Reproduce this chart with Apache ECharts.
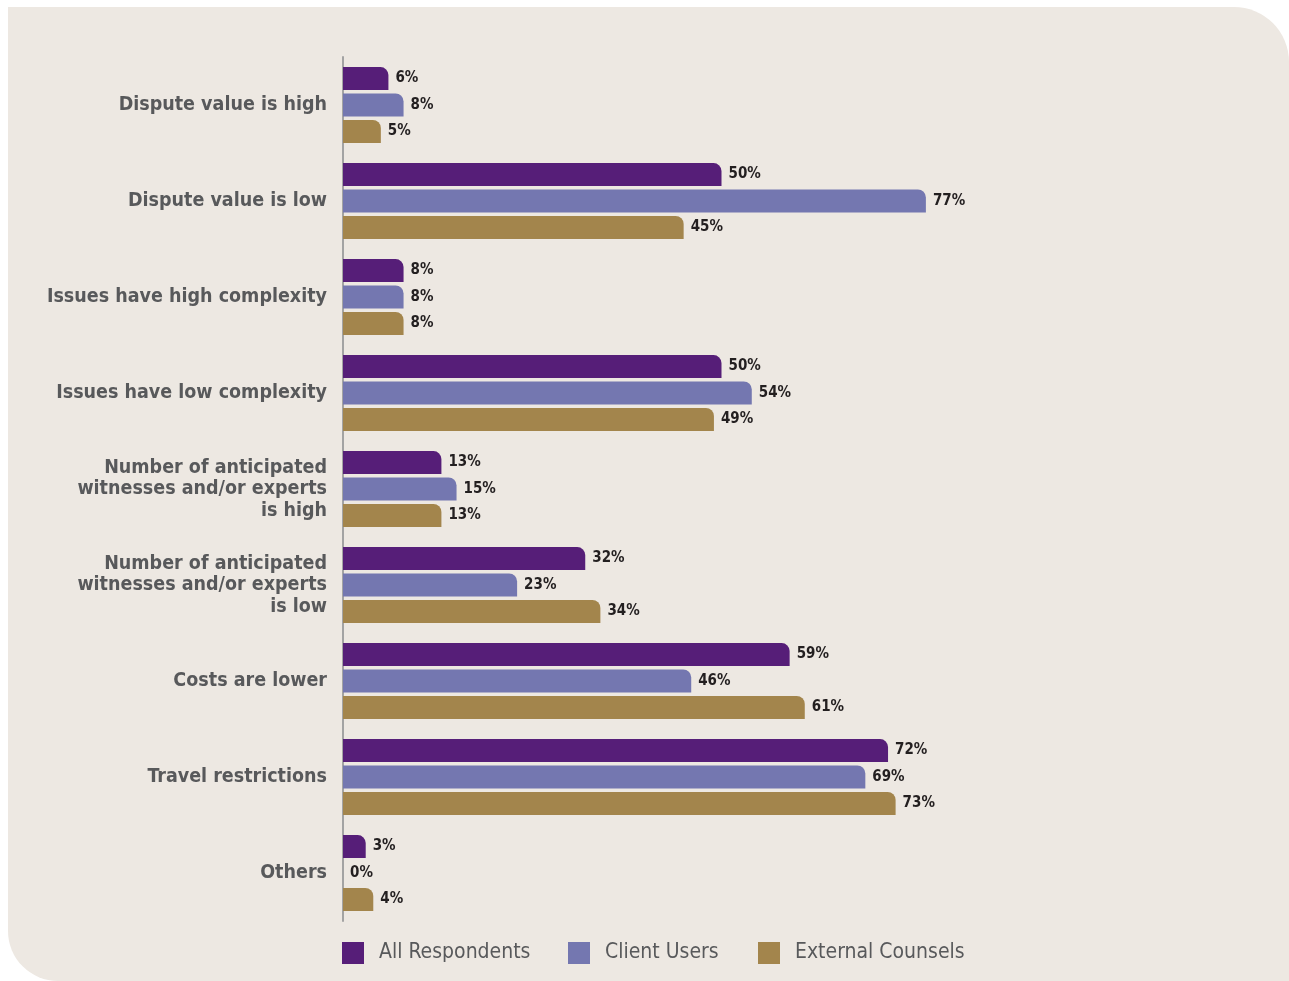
<!DOCTYPE html>
<html><head><meta charset="utf-8">
<script src="https://cdn.jsdelivr.net/npm/echarts@6/dist/echarts.min.js"></script>
<style>html,body{margin:0;padding:0;background:#fff;}#c{width:1289px;height:981px;}</style>
</head><body><div id="c"></div>
<script>
const categories = [
  "Dispute value is high",
  "Dispute value is low",
  "Issues have high complexity",
  "Issues have low complexity",
  "Number of anticipated\nwitnesses and/or experts\nis high",
  "Number of anticipated\nwitnesses and/or experts\nis low",
  "Costs are lower",
  "Travel restrictions",
  "Others"
];
const seriesNames = ["All Respondents", "Client Users", "External Counsels"];
const allRespondents = [6, 50, 8, 50, 13, 32, 59, 72, 3];
const clientUsers = [8, 77, 8, 54, 15, 23, 46, 69, 0];
const externalCounsels = [5, 45, 8, 49, 13, 34, 61, 73, 4];
const colors = ["#561e78", "#7477b0", "#a3854c"];

const FONT = "'DejaVu Sans Condensed', 'Liberation Sans Narrow', 'Liberation Sans', sans-serif";
const chart = echarts.init(document.getElementById('c'));
const data = [allRespondents, clientUsers, externalCounsels];
const legendX = [342, 568, 758];
chart.setOption({
  animation: false,
  graphic: [{
    type: 'rect', z: -10, silent: true,
    shape: {x: 8, y: 7, width: 1281, height: 974, r: [0, 55, 0, 50]},
    style: {fill: '#ede8e2'}
  }],
  legend: seriesNames.map((n, i) => ({
    data: [n], left: legendX[i], top: 942, padding: 0,
    itemWidth: 22, itemHeight: 22, icon: 'rect',
    textStyle: {fontFamily: FONT, fontSize: 21, color: '#58595b', padding: [0, 0, 0, 10]}
  })),
  grid: {left: 343, top: 57, width: 757, height: 864, containLabel: false, outerBoundsMode: 'none'},
  xAxis: {type: 'value', min: 0, max: 100, show: false},
  yAxis: {
    type: 'category', data: categories, inverse: true,
    axisLine: {show: true, lineStyle: {color: '#a3a3a3', width: 2}},
    axisTick: {show: false},
    axisLabel: {fontFamily: FONT, fontWeight: 'bold', fontSize: 19.5, color: '#58595b', margin: 16, lineHeight: 21.5, align: 'right'}
  },
  series: data.map((d, i) => ({
    type: 'bar', name: seriesNames[i], data: d,
    barWidth: 23, barGap: '15%',
    itemStyle: {color: colors[i], borderRadius: [0, 8, 0, 0]},
    label: {show: true, position: 'right', distance: 7, formatter: '{c}%',
      fontFamily: FONT, fontWeight: 'bold', fontSize: 15, color: '#231f20'}
  }))
});
</script></body></html>
